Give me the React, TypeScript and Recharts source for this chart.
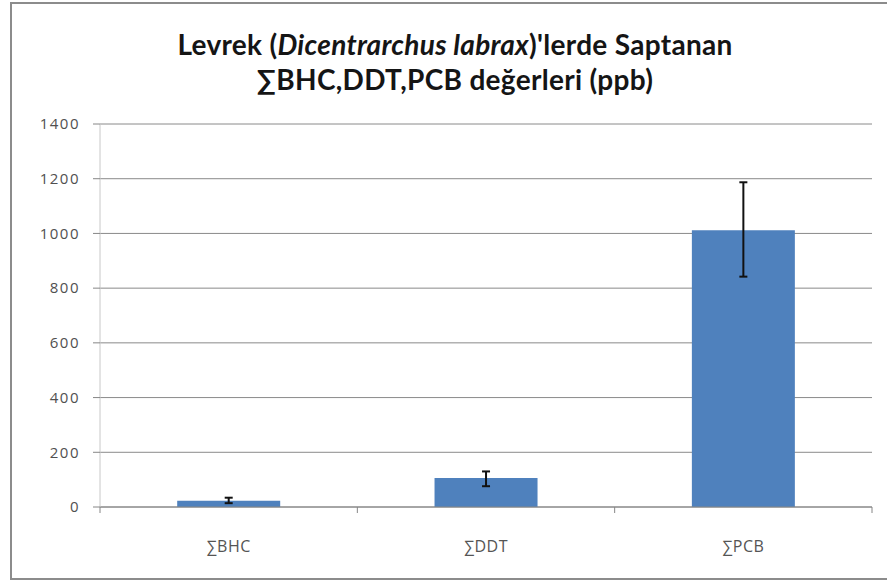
import { Bar, BarChart, CartesianGrid, ErrorBar, XAxis, YAxis } from "recharts";

const categories = ["∑BHC", "∑DDT", "∑PCB"];
const values = [23, 106, 1012];
const errLow = [9, 30, 170];
const errHigh = [11, 24, 175];
const yTicks = [0, 200, 400, 600, 800, 1000, 1200, 1400];

const data = categories.map((name, i) => ({
  name,
  value: values[i],
  err: [errLow[i], errHigh[i]],
}));

const W = 887;
const H = 585;
const LEFT = 100;
const RIGHT = 15;
const BAND = (W - LEFT - RIGHT) / categories.length;

function CatTick(props: any) {
  const { x, y, payload, index } = props;
  return (
    <g>
      <line x1={x + BAND / 2} y1={y - 8} x2={x + BAND / 2} y2={y - 2} stroke="#868686" />
      {index === 0 && <line x1={x - BAND / 2} y1={y - 8} x2={x - BAND / 2} y2={y - 2} stroke="#868686" />}
      <text x={x} y={y + 37} textAnchor="middle" fill="#555" fontSize={16} letterSpacing={0.5} fontFamily="Open Sans">
        {payload.value}
      </text>
    </g>
  );
}

export default function App() {
  return (
    <div style={{ position: "absolute", left: 0, top: 0, width: W, height: H, overflow: "hidden", background: "#fff" }}>
      <div
        style={{
          position: "absolute",
          left: 10,
          top: 2,
          width: 900,
          height: 578,
          border: "2px solid #8c8c8c",
          boxSizing: "border-box",
        }}
      />
      <div
        style={{
          position: "absolute",
          left: 155,
          width: 600,
          top: 27,
          textAlign: "center",
          fontFamily: "Lato",
          fontWeight: 700,
          fontSize: 28,
          letterSpacing: 0.3,
          lineHeight: "35px",
          color: "#151515",
        }}
      >
        Levrek (<i>Dicentrarchus labrax</i>)'lerde Saptanan
        <br />
        ∑BHC,DDT,PCB değerleri (ppb)
      </div>
      <div style={{ position: "absolute", left: 0, top: 0 }}>
        <BarChart
          width={W}
          height={H}
          data={data}
          margin={{ top: 124, right: RIGHT, bottom: 48, left: 40 }}
          barCategoryGap="30%"
        >
          <CartesianGrid vertical={false} stroke="#8a8a8a" />
          <XAxis
            dataKey="name"
            height={30}
            axisLine={{ stroke: "#868686" }}
            tickLine={false}
            tick={<CatTick />}
            interval={0}
          />
          <YAxis
            width={60}
            domain={[0, 1400]}
            ticks={yTicks}
            axisLine={{ stroke: "#c8c8c8" }}
            tickLine={{ stroke: "#868686" }}
            tickSize={7}
            tickMargin={13}
            tick={{ fill: "#505050", fontSize: 15, letterSpacing: 1.5, fontFamily: "Open Sans" }}
          />
          <Bar dataKey="value" fill="#4F81BD" isAnimationActive={false}>
            <ErrorBar dataKey="err" width={4} stroke="#111" strokeWidth={2} isAnimationActive={false} />
          </Bar>
        </BarChart>
      </div>
    </div>
  );
}
